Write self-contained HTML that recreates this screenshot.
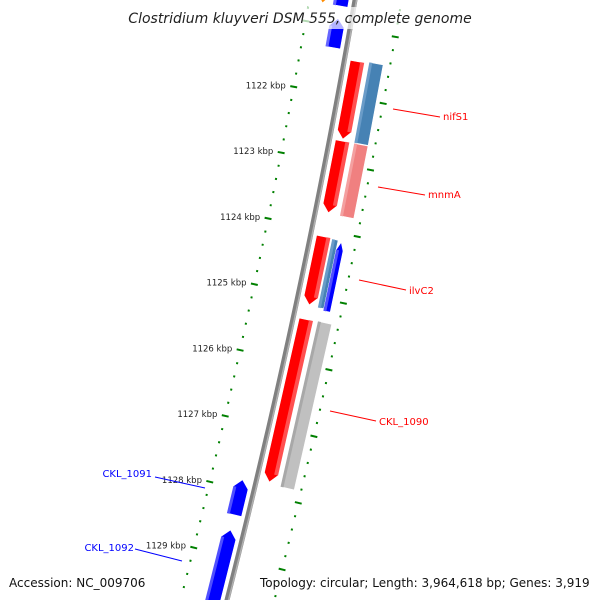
<!DOCTYPE html>
<html><head><meta charset="utf-8"><style>
html,body{margin:0;padding:0;background:#fff;width:600px;height:600px;overflow:hidden;}
svg{display:block;overflow:hidden;font-family:"DejaVu Sans","Liberation Sans",sans-serif;}
</style></head><body>
<svg id="map" width="600" height="600" viewBox="0 0 600 600" xmlns="http://www.w3.org/2000/svg">
<g id="ticks"></g>
<g id="backbone"></g>
<g id="genes"></g>
<g id="labels"></g>
<rect x="125" y="7" width="350" height="22" fill="rgba(255,255,255,0.7)"/>
<text x="300" y="23" text-anchor="middle" font-size="14" font-style="italic" fill="#222">Clostridium kluyveri DSM 555, complete genome</text>
<rect x="255" y="572" width="340" height="20" fill="rgba(255,255,255,0.7)"/>
<text x="9" y="587" font-size="12" fill="#111">Accession: NC_009706</text>
<text x="260" y="587" font-size="12" fill="#111">Topology: circular; Length: 3,964,618 bp; Genes: 3,919</text>
</svg>
<script>
// tick data (kbp)
const tickLabels = [1122,1123,1124,1125,1126,1127,1128,1129];
const tickStart = 1120.4, tickEnd = 1130.0, tickStep = 0.2;
// gene data
const geneNames  = ["top-orange","top-blue","top-blue-2","nifS1","nifS1-partner","mnmA","mnmA-partner","ilvC2","ilvC2-partner-a","ilvC2-partner-b","CKL_1090","CKL_1090-partner","CKL_1091","CKL_1092"];
const geneStart  = [1120.2,1120.2,1120.88,1121.46,1121.44,1122.66,1122.66,1124.10,1124.11,1124.13,1125.35,1125.34,1127.86,1128.62];
const geneEnd    = [1120.69,1120.69,1121.32,1122.63,1122.65,1123.74,1123.75,1125.13,1125.14,1125.17,1127.80,1127.83,1128.39,1130.0];
const geneStrand = [1,0,-1,1,0,1,0,1,0,-1,1,0,-1,-1];
const geneTrack  = ["l2","l1","l1","r1","r2","r1","r2","r1","r2a","r2b","r1","r2","l1","l1"];
const geneColor  = ["#ff8c00","#0000ff","#0000ff","#ff0000","#4682b4","#ff0000","#f08080","#ff0000","#4682b4","#0000ff","#ff0000","#c0c0c0","#0000ff","#0000ff"];
const geneHi     = ["#ffb050","#6666ff","#6666ff","#ff5050","#6a9cc8","#ff5050","#f4a0a0","#ff5050","#6a9cc8","#5050ff","#ff5050","#a8a8a8","#5050ff","#5050ff"];
const labelGenes = ["nifS1","mnmA","ilvC2","CKL_1090","CKL_1091","CKL_1092"];
const labelIdx   = [3,5,7,10,12,13];

const NS="http://www.w3.org/2000/svg";
const tracks={l2:[-38,-25],l1:[-21,-6],r1:[6,20],r2:[25,39],r2a:[22,28],r2b:[28,35]};
function xb(s){return 355-0.1733*s-6.67e-5*s*s;}
function db(s){return -0.1733-1.334e-4*s;}
function sOf(k){return 95+(k-1122)*66.2;}
function pt(s,d){const b=db(s),n=Math.sqrt(1+b*b);return [xb(s)+d/n, s-d*b/n];}
function P(a){return a[0].toFixed(2)+","+a[1].toFixed(2);}
function mk(tag,attrs,parent){const e=document.createElementNS(NS,tag);for(const k in attrs)e.setAttribute(k,attrs[k]);parent.appendChild(e);return e;}

// backbone
const bb=document.getElementById('backbone');
let pts1=[],pts2=[];
for(let s=-10;s<=605;s+=5){pts1.push(P(pt(s,0)));pts2.push(P(pt(s,1.5)));}
const bl=mk('polyline',{points:pts1.join(' '),fill:'none',stroke:'#808080','stroke-width':5},bb);


const bh=mk('polyline',{points:pts2.join(' '),fill:'none',stroke:'#b0b0b0','stroke-width':1.5},bb);



// ticks
const tg=document.getElementById('ticks');
const nT=Math.round((tickEnd-tickStart)/tickStep);
for(let i=0;i<=nT;i++){
  const k=tickStart+i*tickStep;
  const major=Math.abs(k-Math.round(k))<0.01;
  const s=sOf(k);
  [-45,46].forEach(d=>{
    const half=major?3.5:1;
    const a=pt(s,d-half),b=pt(s,d+half);
    if(a[1]>598||b[1]>598) return;
    const l=mk('line',{x1:a[0],y1:a[1],x2:b[0],y2:b[1],stroke:'#008000','stroke-width':2},tg);
    
    
  });
}
tickLabels.forEach(k=>{
  const p=pt(sOf(k),-53);
  const t=mk('text',{x:p[0],y:p[1]+3,'text-anchor':'end','font-size':8.5,fill:'#222'},tg);
  t.textContent=k+' kbp';
  
  
});

// genes
const gg=document.getElementById('genes');
geneNames.forEach((nm,i)=>{
  const s1=sOf(geneStart[i]),s2=sOf(geneEnd[i]);
  const [d1,d2]=tracks[geneTrack[i]];
  const dm=(d1+d2)/2, st=geneStrand[i], ah=Math.min(8,(s2-s1)/3);
  let poly;
  if(st===1) poly=[pt(s1,d1),pt(s1,d2),pt(s2-ah,d2),pt(s2,dm),pt(s2-ah,d1)];
  else if(st===-1) poly=[pt(s1+ah,d1),pt(s1,dm),pt(s1+ah,d2),pt(s2,d2),pt(s2,d1)];
  else poly=[pt(s1,d1),pt(s1,d2),pt(s2,d2),pt(s2,d1)];
  const g=mk('polygon',{points:poly.map(P).join(' '),fill:geneColor[i],stroke:'#fff','stroke-width':0.6},gg);
  
  
  const hd1 = st===1 ? d2-4 : d1, hd2 = st===1 ? d2 : d1+3;
  const hs1 = st===-1 ? s1+ah : s1, hs2 = st===1 ? s2-ah : s2;
  const h=mk('polygon',{points:[pt(hs1,hd1),pt(hs1,hd2),pt(hs2,hd2),pt(hs2,hd1)].map(P).join(' '),fill:geneHi[i]},gg);
  
  
});

// labels
const lg=document.getElementById('labels');
const labelPos={"nifS1":[[393,109],[440,117],443,120],"mnmA":[[378,187],[425,195],428,198],"ilvC2":[[359,280],[406,290],409,294],
"CKL_1090":[[330,411],[376,421],379,425],"CKL_1091":[[205,488],[155,477],152,477],"CKL_1092":[[182,561],[135,549],134,551]};
labelGenes.forEach((nm,j)=>{
  const i=labelIdx[j], lp=labelPos[nm], col=geneStrand[i]===-1?'#0000ff':'#ff0000';
  const l=mk('line',{x1:lp[0][0],y1:lp[0][1],x2:lp[1][0],y2:lp[1][1],stroke:col,'stroke-width':1},lg);
  
  
  const t=mk('text',{x:lp[2],y:lp[3],'font-size':10,fill:col,'text-anchor':geneStrand[i]===-1?'end':'start'},lg);
  t.textContent=nm;
  
  
});
</script>
</body></html>
